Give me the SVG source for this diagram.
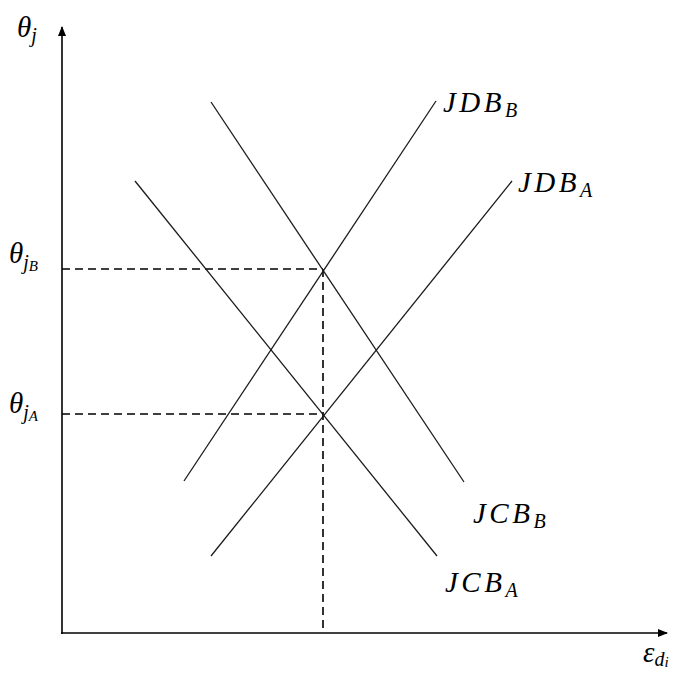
<svg xmlns="http://www.w3.org/2000/svg" width="682" height="673" viewBox="0 0 682 673">
<style>
.ax{stroke:#000;stroke-width:1.6;fill:none}
.ln{stroke:#1a1a1a;stroke-width:1.3;fill:none}
.ds{stroke:#000;stroke-width:1.6;fill:none;stroke-dasharray:8,5}
text{font-family:"Liberation Serif","DejaVu Serif",serif;font-style:italic;fill:#000}
.m{font-size:29px}
.w{letter-spacing:3.5px}
.s{font-size:20px;letter-spacing:0}
.ss{font-size:15px}
</style>
<defs>
<marker id="ar" viewBox="0 0 10 10" refX="9" refY="5" markerWidth="10" markerHeight="10" markerUnits="userSpaceOnUse" orient="auto">
<path d="M0,1 L10,5 L0,9 Z" fill="#000"/>
</marker>
</defs>
<rect width="682" height="673" fill="#fff"/>
<g id="axes">
<line class="ax" x1="62" y1="634" x2="62" y2="27" marker-end="url(#ar)"/>
<line class="ax" x1="61" y1="633" x2="667" y2="633" marker-end="url(#ar)"/>
</g>
<g id="connectors">
<line class="ds" x1="62" y1="269" x2="323" y2="269"/>
<line class="ds" x1="62" y1="414" x2="323" y2="414"/>
<line class="ds" x1="323" y1="269" x2="323" y2="633"/>
</g>
<g id="JDB_B"><line class="ln" x1="184" y1="481" x2="436" y2="101"/><text x="443" y="112" class="m w">JDB<tspan class="s" dy="5">B</tspan></text></g>
<g id="JDB_A"><line class="ln" x1="211" y1="556" x2="512" y2="181"/><text x="518" y="192" class="m w">JDB<tspan class="s" dy="5">A</tspan></text></g>
<g id="JCB_B"><line class="ln" x1="211" y1="102" x2="464" y2="482"/><text x="473" y="523" class="m w">JCB<tspan class="s" dy="5">B</tspan></text></g>
<g id="JCB_A"><line class="ln" x1="135" y1="181" x2="437" y2="556"/><text x="445" y="592" class="m w">JCB<tspan class="s" dy="5">A</tspan></text></g>
<g id="labels">
<text x="17" y="37" class="m">θ<tspan class="s" dy="5">j</tspan></text>
<text x="9" y="263" class="m">θ<tspan class="s" dy="6">j</tspan><tspan class="ss" dy="2">B</tspan></text>
<text x="9" y="413" class="m">θ<tspan class="s" dy="6">j</tspan><tspan class="ss" dy="2">A</tspan></text>
<text x="643" y="662" class="m">ε<tspan class="s" dy="4">d</tspan><tspan class="ss" dy="1">i</tspan></text>
</g>
</svg>
